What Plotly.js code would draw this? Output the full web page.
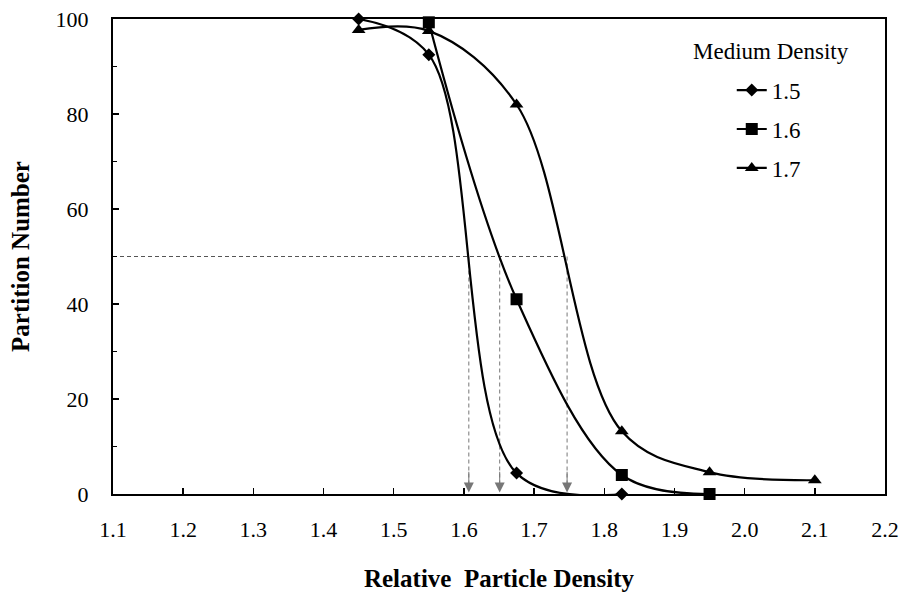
<!DOCTYPE html>
<html>
<head>
<meta charset="utf-8">
<script src="https://cdn.plot.ly/plotly-3.0.1.min.js"></script>
<style>html,body{margin:0;padding:0;background:#fff;}#chart{width:904px;height:592px;}</style>
</head>
<body>
<div id="chart"></div>
<script>
// Data
const seriesNames = ['1.5', '1.6', '1.7'];
const x15 = [1.45, 1.55, 1.675, 1.825];
const y15 = [100, 92.5, 4.4, 0];
const x16 = [1.55, 1.675, 1.825, 1.95];
const y16 = [99.3, 41, 4, 0];
const x17 = [1.45, 1.55, 1.675, 1.825, 1.95, 2.1];
const y17 = [97.7, 97.5, 82, 13.2, 4.6, 2.9];
const cutLevel = 50;
const cutDensities = [1.607, 1.651, 1.747];
const legendTitle = 'Medium Density';
const xTitle = 'Relative&nbsp;&nbsp;Particle Density';
const yTitle = 'Partition Number';

const serif = '"Liberation Serif", "Times New Roman", serif';
const lineStyle = {color: '#000', width: 2.2, shape: 'spline', smoothing: 1};

const traces = [
  {x: x15, y: y15, name: seriesNames[0], mode: 'lines+markers', line: lineStyle,
   marker: {symbol: 'diamond', size: 10, color: '#000'}, cliponaxis: false},
  {x: x16, y: y16, name: seriesNames[1], mode: 'lines+markers', line: lineStyle,
   marker: {symbol: 'square', size: 12, color: '#000'}, cliponaxis: false},
  {x: x17, y: y17, name: seriesNames[2], mode: 'lines+markers', line: lineStyle,
   marker: {symbol: 'triangle-up', size: 12, color: '#000'}, cliponaxis: false}
];

const shapes = [
  {type: 'line', xref: 'x', yref: 'y', x0: 1.1, x1: Math.max(...cutDensities), y0: cutLevel, y1: cutLevel,
   line: {color: '#555', width: 1, dash: '4px,3px'}, layer: 'below'}
];
cutDensities.forEach(d => shapes.push({
  type: 'line', xref: 'x', yref: 'y', x0: d, x1: d, y0: cutLevel, y1: 1,
  line: {color: '#777', width: 1, dash: '4px,3px'}, layer: 'below'
}));

const annotations = [
  {text: legendTitle, xref: 'paper', yref: 'paper', x: 0.749, y: 0.932, xanchor: 'left', yanchor: 'middle',
   showarrow: false, font: {family: serif, size: 23, color: '#000'}}
];
cutDensities.forEach(d => annotations.push({
  x: d, y: 0.3, xref: 'x', yref: 'y', ax: d, ay: 5, axref: 'x', ayref: 'y',
  showarrow: true, arrowhead: 2, arrowsize: 2, arrowwidth: 1, arrowcolor: '#777', text: ''
}));

const layout = {
  width: 904, height: 592,
  margin: {l: 113, r: 19, t: 19, b: 98},
  paper_bgcolor: '#fff', plot_bgcolor: '#fff',
  font: {family: serif, color: '#000', size: 22},
  showlegend: true,
  legend: {x: 0.8015, y: 0.8955, xanchor: 'left', yanchor: 'top', bgcolor: 'rgba(0,0,0,0)',
           font: {family: serif, size: 23, color: '#000'}, tracegroupgap: 6, traceorder: 'grouped'},
  xaxis: {
    range: [1.1, 2.2], dtick: 0.1, tick0: 1.1, tickformat: '.1f',
    ticks: 'inside', ticklen: 6, tickwidth: 1.5, tickcolor: '#000',
    showline: true, linecolor: '#000', linewidth: 2, mirror: true,
    showgrid: false, zeroline: false, ticklabelstandoff: 15, automargin: false,
    tickfont: {family: serif, size: 22, color: '#000'},
    title: {text: xTitle, font: {family: serif, size: 25, color: '#000', weight: 'bold'}, standoff: 28}
  },
  yaxis: {
    range: [0, 100], dtick: 20, tick0: 0,
    ticks: 'inside', ticklen: 6, tickwidth: 1.5, tickcolor: '#000',
    minor: {ticks: 'inside', dtick: 10, ticklen: 4, tickwidth: 1.5, tickcolor: '#000'},
    showline: true, linecolor: '#000', linewidth: 2, mirror: true,
    showgrid: false, zeroline: false, ticklabelstandoff: 18, automargin: false,
    tickfont: {family: serif, size: 22, color: '#000'},
    title: {text: yTitle, font: {family: serif, size: 25, color: '#000', weight: 'bold'}, standoff: 19}
  },
  shapes: shapes,
  annotations: annotations
};

traces.forEach((t, i) => { t.legendgroup = 'g' + i; });
Plotly.newPlot('chart', traces, layout, {displayModeBar: false, staticPlot: true});
</script>
</body>
</html>
